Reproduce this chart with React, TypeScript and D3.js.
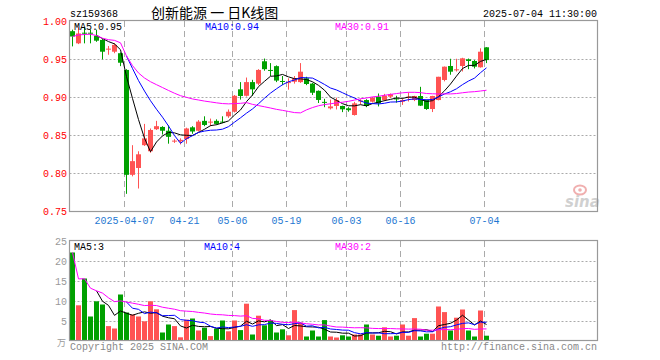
import React from 'react';
import * as d3 from 'd3';

const dates = [
  '2025-03-24','2025-03-25','2025-03-26','2025-03-27','2025-03-28','2025-03-31','2025-04-01','2025-04-02','2025-04-03',
  '2025-04-07','2025-04-08','2025-04-09','2025-04-10','2025-04-11','2025-04-14','2025-04-15','2025-04-16','2025-04-17','2025-04-18',
  '2025-04-21','2025-04-22','2025-04-23','2025-04-24','2025-04-25','2025-04-28','2025-04-29','2025-04-30',
  '2025-05-06','2025-05-07','2025-05-08','2025-05-09','2025-05-12','2025-05-13','2025-05-14','2025-05-15','2025-05-16',
  '2025-05-19','2025-05-20','2025-05-21','2025-05-22','2025-05-23','2025-05-26','2025-05-27','2025-05-28','2025-05-29','2025-05-30',
  '2025-06-03','2025-06-04','2025-06-05','2025-06-06','2025-06-09','2025-06-10','2025-06-11','2025-06-12','2025-06-13',
  '2025-06-16','2025-06-17','2025-06-18','2025-06-19','2025-06-20','2025-06-23','2025-06-24','2025-06-25','2025-06-26','2025-06-27','2025-06-30',
  '2025-07-01','2025-07-02','2025-07-03','2025-07-04',
];

const open = [
  0.987, 0.971, 0.985, 0.985, 0.981, 0.9755, 0.963, 0.960, 0.958, 0.936,
  0.798, 0.807, 0.837, 0.829, 0.858, 0.861, 0.856, 0.842, 0.842, 0.845,
  0.8605, 0.856, 0.869, 0.867, 0.869, 0.868, 0.875, 0.881, 0.9105, 0.902,
  0.920, 0.918, 0.9474, 0.936, 0.941, 0.9215, 0.919, 0.9205, 0.920, 0.925,
  0.918, 0.9085, 0.894, 0.8855, 0.8886, 0.8886, 0.8855, 0.8767, 0.895, 0.8964,
  0.8942, 0.9008, 0.8964, 0.9008, 0.8985, 0.8942, 0.900, 0.8964, 0.9017, 0.8964,
  0.8846, 0.8964, 0.9228, 0.9412, 0.9365, 0.9412, 0.950, 0.9478, 0.9395, 0.9658,
];
const high = [
  0.989, 0.992, 0.992, 0.989, 0.989, 0.977, 0.9675, 0.971, 0.959, 0.937,
  0.837, 0.829, 0.865, 0.859, 0.869, 0.862, 0.863, 0.845, 0.846, 0.860,
  0.862, 0.870, 0.875, 0.872, 0.871, 0.875, 0.884, 0.903, 0.920, 0.926,
  0.923, 0.937, 0.951, 0.945, 0.942, 0.928, 0.925, 0.928, 0.945, 0.927,
  0.919, 0.909, 0.898, 0.897, 0.8995, 0.889, 0.887, 0.894, 0.8975, 0.8975,
  0.9005, 0.905, 0.9045, 0.905, 0.902, 0.8985, 0.9065, 0.902, 0.9138, 0.897,
  0.902, 0.927, 0.9405, 0.9507, 0.9507, 0.952, 0.951, 0.949, 0.9645, 0.966,
];
const low = [
  0.967, 0.970, 0.971, 0.971, 0.973, 0.950, 0.956, 0.958, 0.941, 0.773,
  0.796, 0.780, 0.836, 0.827, 0.857, 0.851, 0.839, 0.840, 0.838, 0.839,
  0.852, 0.855, 0.862, 0.862, 0.864, 0.866, 0.873, 0.880, 0.897, 0.901,
  0.902, 0.916, 0.935, 0.928, 0.920, 0.916, 0.910, 0.918, 0.919, 0.916,
  0.903, 0.8925, 0.887, 0.884, 0.884, 0.8805, 0.881, 0.876, 0.891, 0.887,
  0.893, 0.888, 0.895, 0.899, 0.893, 0.890, 0.8945, 0.895, 0.8885, 0.8835,
  0.8806, 0.896, 0.921, 0.9297, 0.934, 0.934, 0.937, 0.938, 0.939, 0.945,
];
const close = [
  0.980, 0.984, 0.984, 0.984, 0.9745, 0.960, 0.964, 0.969, 0.9455, 0.798,
  0.816, 0.825, 0.846, 0.857, 0.862, 0.856, 0.848, 0.843, 0.844, 0.859,
  0.855, 0.868, 0.8636, 0.868, 0.865, 0.867, 0.881, 0.902, 0.9017, 0.920,
  0.9105, 0.936, 0.937, 0.935, 0.922, 0.9205, 0.920, 0.925, 0.9337, 0.9175,
  0.906, 0.8965, 0.893, 0.888, 0.8964, 0.8842, 0.883, 0.892, 0.8958, 0.8886,
  0.8995, 0.892, 0.9022, 0.904, 0.898, 0.8964, 0.9008, 0.9017, 0.889, 0.8846,
  0.9017, 0.927, 0.9403, 0.9337, 0.9368, 0.9513, 0.9478, 0.9403, 0.960, 0.949,
];
const volume = [
  22, 8.8, 15.5, 6.0, 9.8, 9.0, 3.6, 3.0, 11.5, 7.0,
  6.5, 6.0, 4.8, 9.8, 7.8, 2.0, 4.0, 3.6, 0.8, 5.2,
  5.5, 2.5, 3.2, 1.1, 3.0, 5.0, 2.3, 5.0, 2.6, 9.2,
  1.5, 6.2, 3.8, 5.1, 2.0, 2.8, 1.3, 7.6, 4.5, 1.0,
  2.5, 1.0, 5.1, 1.0, 0.75, 1.3, 1.0, 1.5, 1.5, 4.0,
  1.5, 1.2, 3.3, 1.0, 1.2, 4.0, 1.2, 5.6, 1.0, 1.7,
  1.7, 8.5, 7.1, 2.5, 5.7, 7.75, 2.5, 1.0, 7.5, 1.2,
];

const priceTicks = [1.0, 0.95, 0.9, 0.85, 0.8, 0.75];
const volTicks = [25, 20, 15, 10, 5];
const tickDates = ['2025-04-07', '2025-04-21', '2025-05-06', '2025-05-19', '2025-06-03', '2025-06-16', '2025-07-04'];
const tickLabels = ['2025-04-07', '04-21', '05-06', '05-19', '06-03', '06-16', '07-04'];
const priceMaLabels = ['MA5:0.95', 'MA10:0.94', 'MA30:0.91'];
const volMaLabels = ['MA5:3', 'MA10:4', 'MA30:2'];
const titleCode = 'sz159368';
const titleName = '创新能源 一 日K线图';
const titleTime = '2025-07-04 11:30:00';

const RED = '#ff5353';
const GREEN = '#00a000';
const MA_COLORS = ['#000000', '#0000ff', '#ff00ff'];
const MONO = '"Liberation Mono", "DejaVu Sans Mono", monospace';

function movingAvg(arr: number[], n: number, cumulative: boolean): (number | null)[] {
  return arr.map((_, i) => {
    if (i < n - 1 && !cumulative) return null;
    const s = Math.max(0, i - n + 1);
    const slice = arr.slice(s, i + 1);
    return d3.mean(slice) as number;
  });
}

function MonoText(props: { x: number; y: number; text: string; fill: string; anchor?: string; cw?: number }) {
  const cw = props.cw ?? 6;
  const len = props.text.length * cw;
  let x = props.x;
  if (props.anchor === 'end') x = props.x - len;
  if (props.anchor === 'middle') x = props.x - len / 2;
  return (
    <text x={x} y={props.y} fill={props.fill} fontFamily={MONO} fontSize={11}
      textLength={len} lengthAdjust="spacingAndGlyphs">{props.text}</text>
  );
}

export default function App() {
  const N = dates.length;
  const x = d3.scaleLinear().domain([0, N]).range([70, 70 + 6 * N]);
  const yP = d3.scaleLinear().domain([0.75, 1.0]).range([211.3, 21.3]);
  const yV = d3.scaleLinear().domain([0, 25]).range([340.5, 240.5]);
  const left = 69.5, right = 597.5;

  const idx = d3.range(N);
  const pMA = [movingAvg(close, 5, false), movingAvg(close, 10, false), movingAvg(close, 30, true)];
  const vMA = [movingAvg(volume, 5, false), movingAvg(volume, 10, false), movingAvg(volume, 30, true)];

  const lineP = d3.line<number>()
    .defined((i: number) => true)
    .x((i: number) => x(i) + 2.5);

  const makePath = (vals: (number | null)[], ys: d3.ScaleLinear<number, number>) =>
    d3.line<number>()
      .defined((i) => vals[i] != null)
      .x((i) => x(i) + 2.5)
      .y((i) => ys(vals[i] as number))(idx) || '';

  const vlines = tickDates.map((d) => Math.round(x(dates.indexOf(d))) + 0.5);

  return (
    <svg width={660} height={360} style={{ position: 'absolute', left: 0, top: 0, background: '#fff' }}
      xmlns="http://www.w3.org/2000/svg">
      <rect x={0} y={0} width={660} height={360} fill="#fff" />
      {/* title */}
      <MonoText x={70} y={17} text={titleCode} fill="#000" />
      <text x={151} y={18} fontFamily='"Noto Sans CJK SC", sans-serif' fontSize={14} fill="#000">{titleName}</text>
      <MonoText x={597} y={17} text={titleTime} fill="#000" anchor="end" />

      {/* price grid */}
      {priceTicks.slice(1, -1).map((t) => (
        <line key={'pg' + t} x1={left} x2={right} y1={Math.round(yP(t)) + 0.5} y2={Math.round(yP(t)) + 0.5}
          stroke="#aaa" strokeDasharray="2,2" />
      ))}
      {vlines.map((vx, k) => (
        <line key={'pv' + k} x1={vx} x2={vx} y1={21} y2={211} stroke="#aaa" strokeDasharray="6,4" />
      ))}
      {/* volume grid */}
      {volTicks.slice(1).map((t) => (
        <line key={'vg' + t} x1={left} x2={right} y1={Math.round(yV(t)) + 0.5} y2={Math.round(yV(t)) + 0.5}
          stroke="#aaa" strokeDasharray="2,2" />
      ))}
      {vlines.map((vx, k) => (
        <line key={'vv' + k} x1={vx} x2={vx} y1={241} y2={340} stroke="#aaa" strokeDasharray="6,4" />
      ))}

      {/* sina logo */}
      <g opacity={0.45}>
        <ellipse cx={580} cy={190} rx={6} ry={4.5} fill="none" stroke="#e05050" strokeWidth={2} />
        <circle cx={580} cy={190} r={1.8} fill="#e05050" />
        <text x={565} y={207} fontFamily="DejaVu Sans, sans-serif" fontStyle="italic" fontWeight="bold"
          fontSize={15} fill="#999">sina</text>
      </g>

      {/* candles */}
      {idx.map((i) => {
        const up = close[i] >= open[i];
        const col = up ? RED : GREEN;
        const bx = Math.round(x(i));
        const top = yP(Math.max(open[i], close[i]));
        const bot = yP(Math.min(open[i], close[i]));
        return (
          <g key={'c' + i}>
            <rect x={bx + 2} y={yP(high[i])} width={1} height={Math.max(1, yP(low[i]) - yP(high[i]))} fill={col} />
            <rect x={bx} y={top} width={5} height={Math.max(1, bot - top)} fill={col} />
          </g>
        );
      })}
      {pMA.map((vals, k) => (
        <path key={'pma' + k} d={makePath(vals, yP)} fill="none" stroke={MA_COLORS[k]} strokeWidth={1} />
      ))}

      {/* volume bars */}
      {idx.map((i) => {
        const up = close[i] >= open[i];
        const bx = Math.round(x(i));
        return (
          <rect key={'v' + i} x={bx} y={yV(volume[i])} width={5} height={yV(0) - yV(volume[i])}
            fill={up ? RED : GREEN} />
        );
      })}
      {vMA.map((vals, k) => (
        <path key={'vma' + k} d={makePath(vals, yV)} fill="none" stroke={MA_COLORS[k]} strokeWidth={1} />
      ))}

      {/* frames */}
      <rect x={left} y={20.5} width={right - left} height={191} fill="none" stroke="#999" strokeWidth={1.2} />
      <rect x={left} y={240.5} width={right - left} height={100} fill="none" stroke="#999" strokeWidth={1.2} />

      {/* price axis labels */}
      {priceTicks.map((t) => (
        <MonoText key={'pl' + t} x={67} y={yP(t) + 4} text={t.toFixed(2)} fill="#ff0000" anchor="end" />
      ))}
      {/* volume axis labels */}
      {volTicks.map((t) => (
        <MonoText key={'vl' + t} x={67} y={yV(t) + 4} text={String(t)} fill="#999" anchor="end" />
      ))}
      <text x={66} y={346} textAnchor="end" fontFamily='"Noto Sans CJK SC", sans-serif' fontSize={9} fill="#999">万</text>

      {/* date labels */}
      {tickDates.map((d, k) => (
        <MonoText key={'dl' + k} x={vlines[k]} y={224} text={tickLabels[k]} fill="#1e78d2" anchor="middle" />
      ))}

      {/* MA legends */}
      {[74, 205, 335].map((lx, k) => (
        <MonoText key={'pml' + k} x={lx} y={30} text={priceMaLabels[k]} fill={MA_COLORS[k]} />
      ))}
      {[74, 204, 335].map((lx, k) => (
        <MonoText key={'vml' + k} x={lx} y={250} text={volMaLabels[k]} fill={MA_COLORS[k]} />
      ))}

      {/* footer */}
      <MonoText x={70} y={350} text="Copyright 2025 SINA.COM" fill="#888" />
      <MonoText x={597} y={350} text="http://finance.sina.com.cn" fill="#888" anchor="end" />
    </svg>
  );
}
